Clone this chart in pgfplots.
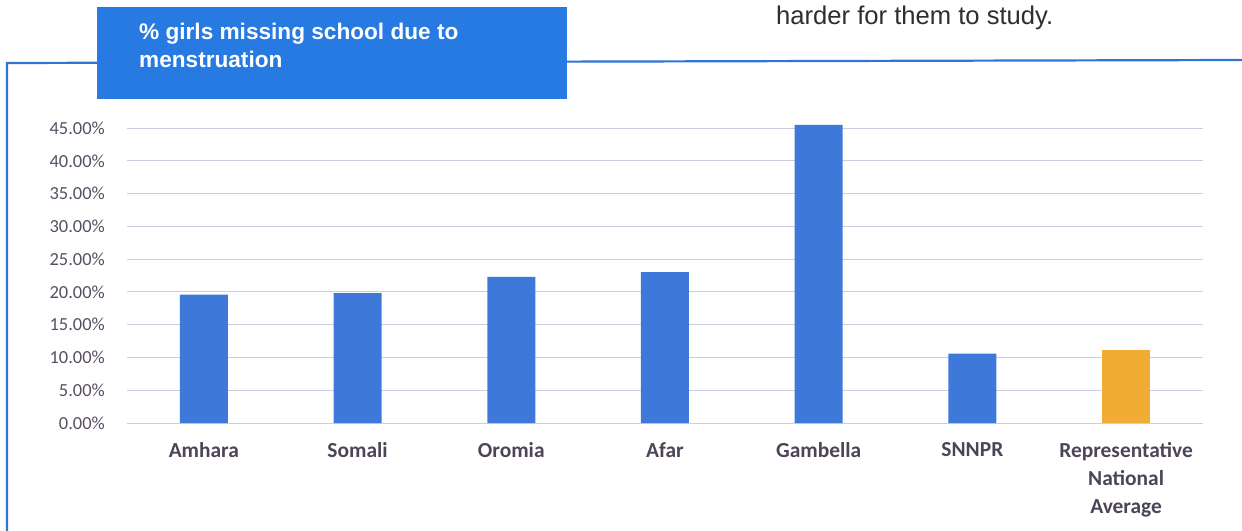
\documentclass[border=0pt]{standalone}
\usepackage{fontspec}
\setmainfont{Carlito}
\newfontfamily\titlefont{Liberation Sans}
\newfontfamily\bodyfont{Liberation Sans}
\usepackage{pgfplots}
\usepackage{pgfplotstable}
\pgfplotsset{compat=1.18}
\definecolor{barblue}{RGB}{62,121,218}
\definecolor{barorange}{RGB}{240,172,52}
\definecolor{boxblue}{RGB}{38,122,226}
\definecolor{frameblue}{RGB}{48,116,212}
\definecolor{gridc}{RGB}{205,205,226}
\definecolor{ticktext}{RGB}{88,78,98}
\definecolor{labtext}{RGB}{78,68,88}
\definecolor{bodytext}{RGB}{45,45,52}
\pgfplotstableread{
x y
0 19.6
1 19.8
2 22.3
3 23.0
4 45.5
5 10.6
}\regions
\pgfplotstableread{
x y
6 11.1
}\national
\begin{document}
\begin{tikzpicture}[x=1bp,y=-1bp]
\path[use as bounding box] (0,0) rectangle (1242,531);
% frame
\draw[frameblue, line width=2.2bp] (7,531) -- (7,63) -- (1242,60);
% title box
\fill[boxblue] (97,7) rectangle (567,99);
\node[anchor=base west, inner sep=0pt, text=white, font=\titlefont\bfseries\fontsize{22.7}{28}\selectfont] at (139,40) {\% girls missing school due to};
\node[anchor=base west, inner sep=0pt, text=white, font=\titlefont\bfseries\fontsize{22.7}{28}\selectfont] at (139,68) {menstruation};
% body text
\node[anchor=base west, inner sep=0pt, text=bodytext, font=\bodyfont\fontsize{25.7}{30}\selectfont] at (776,25) {harder for them to study.};
\begin{axis}[
  at={(127bp,-423bp)}, anchor=south west,
  scale only axis, width=1076bp, height=304.8bp,
  xmin=-0.5, xmax=6.5, ymin=0, ymax=46.5,
  enlargelimits=false,
  axis line style={draw=none},
  major tick length=0pt,
  ymajorgrids, grid style={gridc, line width=0.9bp},
  ytick={0,5,10,15,20,25,30,35,40,45},
  yticklabels={0.00\%,5.00\%,10.00\%,15.00\%,20.00\%,25.00\%,30.00\%,35.00\%,40.00\%,45.00\%},
  yticklabel style={anchor=east, inner sep=0pt, xshift=-22bp, text=ticktext, font=\fontsize{18.5}{22}\selectfont},
  xtick={0,1,2,3,4,5,6},
  xticklabels={Amhara,Somali,Oromia,Afar,Gambella,SNNPR,{Representative\\National\\Average}},
  xticklabel style={anchor=north, inner sep=0pt, yshift=-19bp, align=center, text=labtext, font=\bfseries\fontsize{21.5}{28}\selectfont},
  clip=false,
]
\addplot[ybar, bar width=48bp, bar shift=0pt, fill=barblue, draw=none] table[x=x,y=y] {\regions};
\addplot[ybar, bar width=48bp, bar shift=0pt, fill=barorange, draw=none] table[x=x,y=y] {\national};
\end{axis}
\end{tikzpicture}
\end{document}
